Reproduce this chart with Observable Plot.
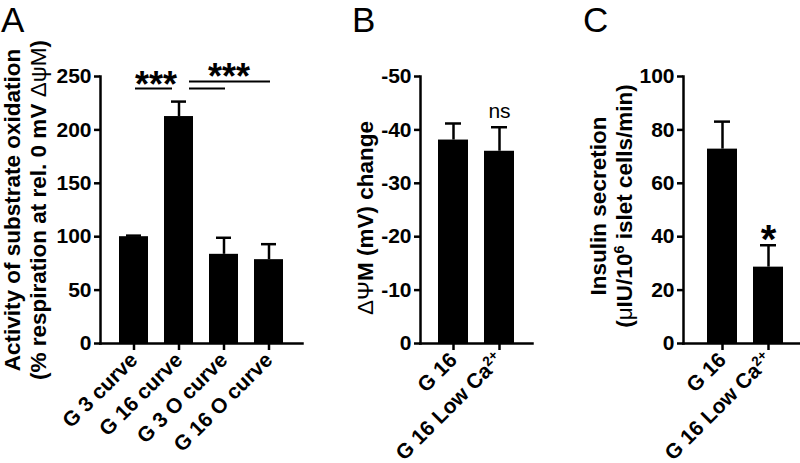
<!DOCTYPE html>
<html><head><meta charset="utf-8">
<script src="https://cdn.jsdelivr.net/npm/d3@7"></script>
<script src="https://cdn.jsdelivr.net/npm/@observablehq/plot@0.6"></script>
<style>
body{margin:0;background:#fff;}
#wrap{position:relative;width:800px;height:463px;overflow:hidden;font-family:"Liberation Sans",Arial,sans-serif;color:#000;background:#fff;}
.plot{position:absolute;top:0;}
.letter{position:absolute;top:0;font-size:35px;line-height:1.15;font-weight:normal;}
.ylab{position:absolute;transform:translate(-50%,-50%) rotate(-90deg);white-space:nowrap;text-align:center;font-weight:bold;font-size:22.5px;line-height:26px;}
.sym{font-weight:normal;}
sup{font-size:0.65em;line-height:0;vertical-align:0.55em;}
</style>
</head>
<body>
<div id="wrap">
  <div class="letter" style="left:1px">A</div>
  <div class="letter" style="left:352px">B</div>
  <div class="letter" style="left:583px">C</div>
  <div class="ylab" style="left:26px;top:210px">Activity of substrate oxidation<br>(% respiration at rel. 0 mV <span class="sym">ΔψM</span>)</div>
  <div class="ylab" style="left:366px;top:218px"><span class="sym">ΔΨ</span>M (mV) change</div>
  <div class="ylab" style="left:612px;top:206px">Insulin secretion<br>(<span class="sym">μ</span>IU/10<sup>6</sup> islet cells/min)</div>
</div>
<script>
// ---- Panel A data ----
const catsA = ["G 3 curve", "G 16 curve", "G 3 O curve", "G 16 O curve"];
const meanA = [100, 212.5, 83.5, 78.5];
const semA = [1, 14, 15.5, 14.5];
const ticksA = [0, 50, 100, 150, 200, 250];
const sigLineA1 = [{from: "G 3 curve", to: "G 16 curve", y: 238.8}];
const sigLineA2 = [{from: "G 16 curve", to: "G 3 O curve", y: 238.8}, {from: "G 16 curve", to: "G 16 O curve", y: 245.3}];
const sigTextA1 = [{x: "G 3 curve", y: 231, label: "***"}];
const sigTextA2 = [{x: "G 3 O curve", y: 238, label: "***"}];

// ---- Panel B data ----
const catsB = ["G 16", "G 16 Low Ca2+"];
const meanB = [-38.1, -36.0];
const semB = [3.1, 4.5];
const ticksB = [0, -10, -20, -30, -40, -50];
const sigTextB = [{x: "G 16 Low Ca2+", y: -42.3, label: "ns"}];

// ---- Panel C data ----
const catsC = ["G 16", "G 16 Low Ca2+"];
const meanC = [72.8, 28.6];
const semC = [10.3, 8.2];
const ticksC = [0, 20, 40, 60, 80, 100];
const sigTextC = [{x: "G 16 Low Ca2+", y: 34, label: "*"}];

const FONT = '"Liberation Sans", Arial, sans-serif';
const SW = 2.5;
const rows = (cats, mean, sem) => cats.map((c, i) => ({cat: c, mean: mean[i], sem: sem[i]}));

function panel({cats, mean, sem, ticks, domain, width, paddingOuter, marginRight, extra, neg}) {
  const data = rows(cats, mean, sem);
  const top = d => neg ? d.mean - d.sem : d.mean + d.sem;
  return Plot.plot({
    width, height: 463,
    marginLeft: 100, marginRight, marginTop: 76, marginBottom: 120,
    style: {fontFamily: FONT, fontSize: "21px", fontWeight: "bold", color: "#000", background: "transparent", overflow: "visible"},
    x: {domain: cats, paddingInner: 0.348, paddingOuter, label: null},
    y: {domain, label: null},
    marks: [
      Plot.barY(data, {x: "cat", y: "mean", fill: "#000"}),
      Plot.ruleX(data, {x: "cat", y1: "mean", y2: top, stroke: "#000", strokeWidth: SW}),
      Plot.tickY(data, {x: "cat", y: top, stroke: "#000", strokeWidth: SW, insetLeft: 7, insetRight: 7}),
      Plot.axisY({ticks, tickFormat: d => String(d), tickSize: 6, tickPadding: 3, strokeWidth: SW, label: null, fontSize: 21}),
      Plot.axisX({tickRotate: -45, tickSize: 7, tickPadding: 6, strokeWidth: SW, label: null, fontSize: 21}),
      Plot.frame({anchor: "left", stroke: "#000", strokeWidth: SW}),
      Plot.frame({anchor: "bottom", stroke: "#000", strokeWidth: SW}),
      ...extra
    ]
  });
}

const pA = panel({cats: catsA, mean: meanA, sem: semA, ticks: ticksA, domain: [0, 250], width: 310, paddingOuter: 0.37, marginRight: 8,
  extra: [
    Plot.ruleY(sigLineA1, {x1: "from", x2: "to", y: "y", stroke: "#000", strokeWidth: 2, insetLeft: 16, insetRight: 21}),
    Plot.ruleY(sigLineA2, {x1: "from", x2: "to", y: "y", stroke: "#000", strokeWidth: 2, insetLeft: 25, insetRight: 13}),
    Plot.text(sigTextA1, {x: "x", y: "y", text: "label", dx: 22, lineAnchor: "bottom", fontSize: 36, fontWeight: "bold"}),
    Plot.text(sigTextA2, {x: "x", y: "y", text: "label", dx: 5, lineAnchor: "bottom", fontSize: 36, fontWeight: "bold"})
  ]});
const pB = panel({cats: catsB, mean: meanB, sem: semB, ticks: ticksB, domain: [0, -50], width: 220, paddingOuter: 0.39, marginRight: 8, neg: true,
  extra: [Plot.text(sigTextB, {x: "x", y: "y", text: "label", lineAnchor: "bottom", fontSize: 21, fontWeight: "normal"})]});
const pC = panel({cats: catsC, mean: meanC, sem: semC, ticks: ticksC, domain: [0, 100], width: 224, paddingOuter: 0.52, marginRight: 0,
  extra: [Plot.text(sigTextC, {x: "x", y: "y", text: "label", lineAnchor: "bottom", fontSize: 40, fontWeight: "bold"})]});

const wrap = document.getElementById("wrap");
[[pA, 0], [pB, 320], [pC, 583]].forEach(([p, left]) => {
  p.classList.add("plot");
  p.style.left = left + "px";
  p.querySelectorAll("text").forEach(t => {
    if (t.textContent === "G 16 Low Ca2+") {
      t.textContent = "G 16 Low Ca";
      const ts = document.createElementNS("http://www.w3.org/2000/svg", "tspan");
      ts.setAttribute("dy", "-0.55em");
      ts.setAttribute("font-size", "0.65em");
      ts.textContent = "2+";
      t.appendChild(ts);
    }
  });
  wrap.insertBefore(p, wrap.firstChild);
});
</script>
</body></html>
